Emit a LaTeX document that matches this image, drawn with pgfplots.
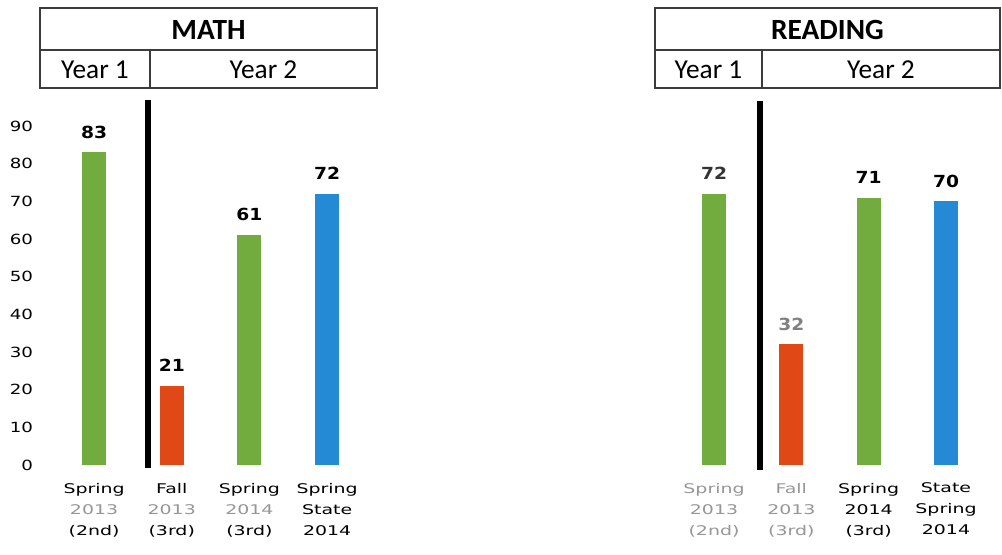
\documentclass[border=0pt]{standalone}
\usepackage{pgfplots}
\pgfplotsset{compat=1.18}
\usepackage{fontspec}
\setmainfont{Carlito}
\newfontfamily\dv{DejaVu Sans}
\newfontfamily\dvb{DejaVu Sans Bold}

\definecolor{bargreen}{RGB}{114,172,62}
\definecolor{barred}{RGB}{224,72,22}
\definecolor{barblue}{RGB}{36,138,214}
\definecolor{lightlab}{RGB}{150,150,150}
\definecolor{boxline}{RGB}{60,60,60}

\pgfplotsset{
  panel/.style={
    anchor=south west,
    scale only axis,
    height=254.25pt,
    ymin=0, ymax=90,
    xmin=-0.5, xmax=3.5,
    clip=false,
    ybar, bar width=18pt, bar shift=0pt,
    axis line style={draw=none},
    major tick length=0pt,
    xtick={0,1,2,3},
    xticklabel style={align=center, font=\dv\fontsize{10}{15.75}\selectfont, anchor=north, yshift=-10pt, xscale=1.42},
    ytick={0,10,...,90},
    /pgf/number format/assume math mode=true,
    yticklabel style={font=\dv\fontsize{10.5}{12}\selectfont, anchor=east, xshift=-12pt, xscale=1.3},
    nodes near coords,
    every node near coord/.append style={font=\dvb\fontsize{12.5}{14}\selectfont, anchor=south, yshift=7pt, xscale=1.12},
  },
}

\begin{document}
\begin{tikzpicture}
\path[use as bounding box] (0,0) rectangle (751.5pt,415.5pt);

% MATH
\begin{axis}[panel, at={(41.4pt,66.75pt)}, width=233.1pt,
  xticklabels={{Spring\\\textcolor{lightlab}{2013}\\(2nd)},{Fall\\\textcolor{lightlab}{2013}\\(3rd)},{Spring\\\textcolor{lightlab}{2014}\\(3rd)},{Spring\\State\\2014}}]
\addplot[fill=bargreen, draw=none] coordinates {(0,83)};
\addplot[fill=barred, draw=none] coordinates {(1,21)};
\addplot[fill=bargreen, draw=none] coordinates {(2,61)};
\addplot[fill=barblue, draw=none] coordinates {(3,72)};
\draw[line width=4.5pt, black] (axis cs:0.695,-0.8) -- (axis cs:0.695,96.9);
\end{axis}

% READING
\begin{axis}[panel, at={(506.5pt,66.75pt)}, width=232pt, yticklabels={},
  xticklabels={{\textcolor{lightlab}{Spring}\\\textcolor{lightlab}{2013}\\\textcolor{lightlab}{(2nd)}},{\textcolor{lightlab}{Fall}\\\textcolor{lightlab}{2013}\\\textcolor{lightlab}{(3rd)}},{Spring\\2014\\(3rd)},{State\\Spring\\2014}}]
\addplot[fill=bargreen, draw=none, every node near coord/.append style={text=black!80}] coordinates {(0,72)};
\addplot[fill=barred, draw=none, every node near coord/.append style={text=gray}] coordinates {(1,32)};
\addplot[fill=bargreen, draw=none] coordinates {(2,71)};
\addplot[fill=barblue, draw=none] coordinates {(3,70)};
\draw[line width=4.5pt, black] (axis cs:0.595,-1.3) -- (axis cs:0.595,96.6);
\end{axis}

% header boxes (px * 0.75)
\begin{scope}[x=0.75pt, y=0.75pt, line width=1.5pt, draw=boxline]
  \draw (40,546) rectangle (377,466);
  \draw (40,504) -- (377,504);
  \draw (150,504) -- (150,466);
  \node[font=\bfseries\fontsize{22}{24}\selectfont] at (208.5,524) {MATH};
  \node[font=\fontsize{20.5}{22}\selectfont] at (95,484) {Year 1};
  \node[font=\fontsize{20.5}{22}\selectfont] at (263.5,484) {Year 2};

  \draw (655,546) rectangle (1000,466);
  \draw (655,504) -- (1000,504);
  \draw (762,504) -- (762,466);
  \node[font=\bfseries\fontsize{22}{24}\selectfont] at (827.5,524) {READING};
  \node[font=\fontsize{20.5}{22}\selectfont] at (708.5,484) {Year 1};
  \node[font=\fontsize{20.5}{22}\selectfont] at (881,484) {Year 2};
\end{scope}
\end{tikzpicture}
\end{document}
